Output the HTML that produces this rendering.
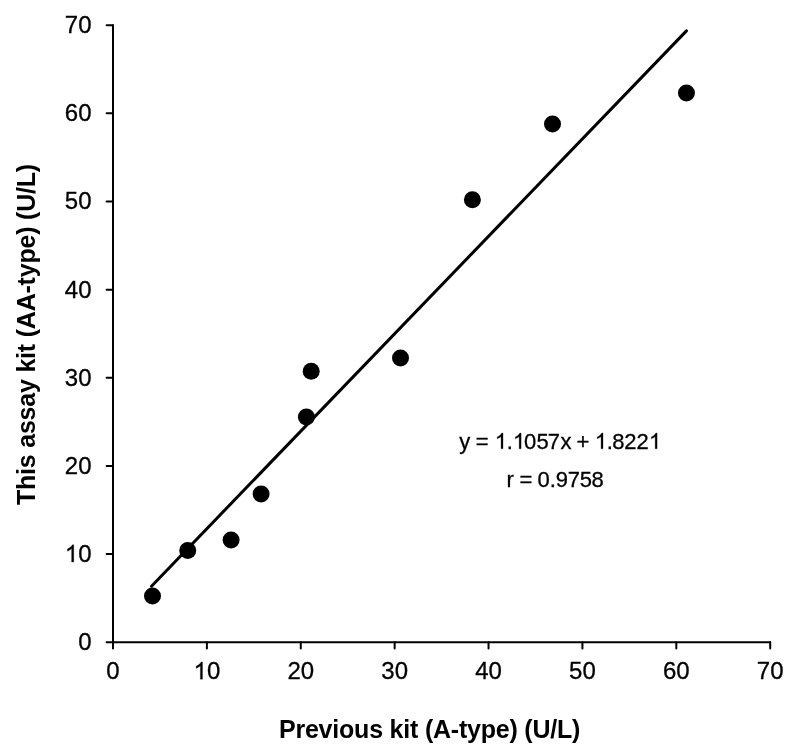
<!DOCTYPE html>
<html><head><meta charset="utf-8"><style>
html,body{margin:0;padding:0;background:#fff;width:800px;height:750px;overflow:hidden}
svg{display:block;will-change:transform}
.t{font-family:"Liberation Sans",sans-serif;font-size:24px;fill:#000;stroke:#000;stroke-width:0.3px}
.e{font-family:"Liberation Sans",sans-serif;font-size:22px;fill:#000;stroke:#000;stroke-width:0.3px}
.a{font-family:"Liberation Sans",sans-serif;font-size:25px;font-weight:bold;fill:#000;letter-spacing:-0.21px}
</style></head><body>
<svg width="800" height="750" viewBox="0 0 800 750"><defs><path id="one" d="M763 0H583V1147Q518 1085 412.5 1023Q307 961 223 930V1104Q374 1175 487 1276Q600 1377 647 1472H763Z"/></defs>
<path d="M113.0 25.2V642.2H770.2" fill="none" stroke="#000" stroke-width="2" stroke-linecap="round" stroke-linejoin="round"/>
<path d="M106.60 642.20H113.0M113.00 642.2V648.60M106.60 554.06H113.0M206.89 642.2V648.60M106.60 465.91H113.0M300.77 642.2V648.60M106.60 377.77H113.0M394.66 642.2V648.60M106.60 289.63H113.0M488.54 642.2V648.60M106.60 201.49H113.0M582.43 642.2V648.60M106.60 113.34H113.0M676.31 642.2V648.60M106.60 25.20H113.0M770.20 642.2V648.60" fill="none" stroke="#000" stroke-width="2" stroke-linecap="round"/>
<text x="78.15" y="650.20" class="t">0</text>
<text x="106.33" y="679.20" class="t">0</text>
<use href="#one" stroke="#000" stroke-width="25.6" transform="translate(64.80 562.06) scale(0.011719 -0.011719)"/>
<text x="78.15" y="562.06" class="t">0</text>
<use href="#one" stroke="#000" stroke-width="25.6" transform="translate(193.54 679.20) scale(0.011719 -0.011719)"/>
<text x="206.89" y="679.20" class="t">0</text>
<text x="64.80" y="473.91" class="t">2</text>
<text x="78.15" y="473.91" class="t">0</text>
<text x="287.42" y="679.20" class="t">2</text>
<text x="300.77" y="679.20" class="t">0</text>
<text x="64.80" y="385.77" class="t">3</text>
<text x="78.15" y="385.77" class="t">0</text>
<text x="381.31" y="679.20" class="t">3</text>
<text x="394.66" y="679.20" class="t">0</text>
<text x="64.80" y="297.63" class="t">4</text>
<text x="78.15" y="297.63" class="t">0</text>
<text x="475.20" y="679.20" class="t">4</text>
<text x="488.54" y="679.20" class="t">0</text>
<text x="64.80" y="209.49" class="t">5</text>
<text x="78.15" y="209.49" class="t">0</text>
<text x="569.08" y="679.20" class="t">5</text>
<text x="582.43" y="679.20" class="t">0</text>
<text x="64.80" y="121.34" class="t">6</text>
<text x="78.15" y="121.34" class="t">0</text>
<text x="662.97" y="679.20" class="t">6</text>
<text x="676.31" y="679.20" class="t">0</text>
<text x="64.80" y="33.20" class="t">7</text>
<text x="78.15" y="33.20" class="t">0</text>
<text x="756.85" y="679.20" class="t">7</text>
<text x="770.20" y="679.20" class="t">0</text>
<path d="M151.49 586.18L686.45 30.86" stroke="#000" stroke-width="3" stroke-linecap="round"/>
<circle cx="152.5" cy="595.90" r="8.5"/>
<circle cx="187.75" cy="550.55" r="8.5"/>
<circle cx="231.1" cy="540.00" r="8.5"/>
<circle cx="261.1" cy="493.90" r="8.5"/>
<circle cx="306.4" cy="417.10" r="8.5"/>
<circle cx="311.2" cy="371.20" r="8.5"/>
<circle cx="400.5" cy="357.90" r="8.5"/>
<circle cx="472.4" cy="199.80" r="8.5"/>
<circle cx="552.5" cy="123.90" r="8.5"/>
<circle cx="686.45" cy="92.90" r="8.5"/>
<use href="#one" stroke="#000" stroke-width="27.9" transform="translate(494.80 448.85) scale(0.010742 -0.010742)"/>
<use href="#one" stroke="#000" stroke-width="27.9" transform="translate(512.90 448.85) scale(0.010742 -0.010742)"/>
<use href="#one" stroke="#000" stroke-width="27.9" transform="translate(594.80 448.85) scale(0.010742 -0.010742)"/>
<use href="#one" stroke="#000" stroke-width="27.9" transform="translate(648.90 448.85) scale(0.010742 -0.010742)"/>
<text y="448.85" class="e" x="459.25 475.70 506.75 523.95 536.40 547.85 560.55 576.50 606.75 612.35 624.20 636.60">y=.057x+.822</text>
<text y="486.50" class="e" x="506.45 519.40 537.55 549.75 555.65 567.70 579.70 591.45">r=0.9758</text>
<text x="429.6" y="738" text-anchor="middle" class="a">Previous kit (A-type) (U/L)</text>
<text transform="translate(35 334.6) rotate(-90)" x="0" y="0" text-anchor="middle" class="a">This assay kit (AA-type) (U/L)</text>
</svg>
</body></html>
